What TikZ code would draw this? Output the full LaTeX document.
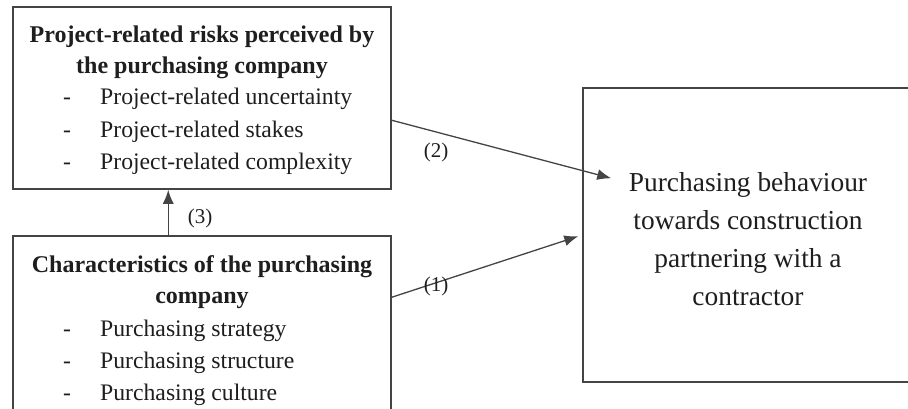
\documentclass[tikz,border=0pt]{standalone}
\usepackage{fontspec}
\setmainfont{Liberation Serif}
\usetikzlibrary{arrows.meta,calc}
\definecolor{linegray}{HTML}{444444}
\definecolor{txtgray}{HTML}{1E1E1E}
\begin{document}
\begin{tikzpicture}[x=1pt,y=-1pt,
  box/.style={draw=linegray,line width=1.5pt,fill=white,rectangle,inner sep=0pt},
  txt/.style={inner sep=0pt,text=txtgray,anchor=base},
  ttl/.style={txt,font=\bfseries\fontsize{24}{28}\selectfont},
  itm/.style={txt,anchor=base west,font=\fontsize{23.7}{28}\selectfont},
  dsh/.style={txt,font=\fontsize{23.7}{28}\selectfont},
  big/.style={txt,font=\fontsize{27.4}{32}\selectfont},
  lbl/.style={inner sep=0pt,text=txtgray,font=\fontsize{21}{24}\selectfont},
  conn/.style={draw=linegray,line width=1.3pt,-{Latex[length=14pt,width=11pt]}}]
\useasboundingbox (0,0) rectangle (908,409);
\clip (0,0) rectangle (908,409);
% boxes
\node[box,minimum width=378pt,minimum height=182pt] (T) at (202,98) {};
\node[box,minimum width=378pt,minimum height=200pt] (B) at (202,336) {};
\node[box,minimum width=340pt,minimum height=294pt] (R) at (753,235) {};
% top box text
\node[ttl] (t1) at (202,43) {Project-related risks perceived by};
\node[ttl] (t2) at (202,73.5) {the purchasing company};
\foreach \t [count=\i] in {Project-related uncertainty,Project-related stakes,Project-related complexity}{
  \node[dsh] (td\i) at (67,{105+32.5*(\i-1)}) {-};
  \node[itm] (ti\i) at (100,{105+32.5*(\i-1)}) {\t};
}
% bottom box text
\node[ttl] (b1) at (202,272) {Characteristics of the purchasing};
\node[ttl] (b2) at (202,303.5) {company};
\foreach \t [count=\i] in {Purchasing strategy,Purchasing structure,Purchasing culture}{
  \node[dsh] (bd\i) at (67,{336+32*(\i-1)}) {-};
  \node[itm] (bi\i) at (100,{336+32*(\i-1)}) {\t};
}
% right box text
\foreach \t [count=\i] in {Purchasing behaviour,towards construction,partnering with a,contractor}{
  \node[big] (r\i) at (748,{192+37.7*(\i-1)}) {\t};
}
% connectors
\coordinate (a2s) at ($(T.north east)+(0,114)$);
\coordinate (a2e) at ($(R.north west)+(29,91)$);
\coordinate (a1s) at ($(B.north east)+(0,62)$);
\coordinate (a1e) at ($(R.north west)+(-4,149)$);
\coordinate (a3s) at ($(B.north west)+(156,0)$);
\coordinate (a3e) at ($(T.south west)+(156,0)$);
\draw[conn] (a2s) -- (a2e);
\draw[conn] (a1s) -- (a1e);
\draw[conn] (a3s) -- (a3e);
% labels
\node[lbl] (l2) at (436,152) {(2)};
\node[lbl] (l1) at (436,286) {(1)};
\node[lbl] (l3) at (200,218) {(3)};
\end{tikzpicture}
\end{document}
